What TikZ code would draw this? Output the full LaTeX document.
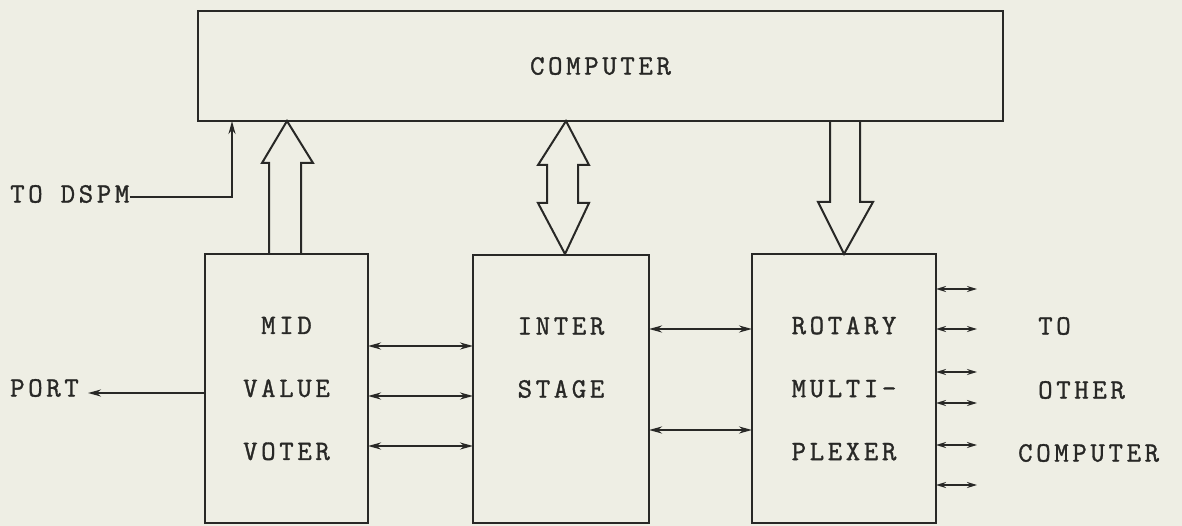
\documentclass[tikz,border=0pt]{standalone}
\usepackage{fontspec}
\newfontfamily\typew[LetterSpace=13,FakeBold=1.2]{Latin Modern Mono}
\usetikzlibrary{arrows.meta}
\definecolor{paper}{RGB}{238,238,228}
\definecolor{ink}{RGB}{40,40,38}
\tikzset{
  box/.style={draw=ink, line width=2pt, inner sep=0pt, outer sep=0pt, align=center,
    font=\typew\fontsize{28}{63}\selectfont, text=ink},
  lbl/.style={inner sep=0pt, text=ink, font=\typew\fontsize{28}{63}\selectfont},
  wire/.style={draw=ink, line width=2pt},
  tip/.style={-{Stealth[length=13pt,width=7pt]}},
  twotip/.style={{Stealth[length=13pt,width=7pt]}-{Stealth[length=13pt,width=7pt]}},
  shorttwotip/.style={{Stealth[length=10pt,width=6pt]}-{Stealth[length=10pt,width=6pt]}},
  blockarrow/.style={draw=ink, line width=2pt, line join=miter}
}
\begin{document}
\begin{tikzpicture}[x=1pt,y=-1pt]
\fill[paper] (0,0) rectangle (1182,526);
\useasboundingbox (0,0) rectangle (1182,526);

% boxes
\node[box, minimum width=805pt, minimum height=110pt] (comp) at (600.5,66) {COMPUTER};
\node[box, minimum width=163pt, minimum height=269pt] (mvv) at (286.5,388.5) {MID\\VALUE\\VOTER};
\node[box, minimum width=176pt, minimum height=268pt] (inter) at (561,389) {INTER\\STAGE\\\phantom{X}};
\node[box, minimum width=184pt, minimum height=269pt] (rot) at (844,388.5) {ROTARY\\MULTI-\\PLEXER};

% outside labels
\node[lbl, anchor=west] (dspm) at (10,194) {TO DSPM};
\node[lbl, anchor=west] (port) at (10,388) {PORT};
\node[lbl, anchor=west] (to) at (1038,326) {TO};
\node[lbl, anchor=west] (other) at (1038,390) {OTHER};
\node[lbl, anchor=west] (ocomp) at (1018,453) {COMPUTER};

% TO DSPM line
\coordinate (bend) at (232,197);
\draw[wire, tip] (dspm.east |- bend) -- (bend) -- (bend |- comp.south);

% PORT
\coordinate (portend) at (88,393);
\draw[wire, tip] (mvv.west |- portend) -- (portend);

% MVV <-> INTER
\foreach \yy in {346,396,446}{
  \draw[wire, twotip] (mvv.east |- 0,\yy) -- (inter.west |- 0,\yy);
}
% INTER <-> ROTARY
\foreach \yy in {329,430}{
  \draw[wire, twotip] (inter.east |- 0,\yy) -- (rot.west |- 0,\yy);
}
% ROTARY outputs
\foreach \yy in {289,329,372,403,445,485}{
  \draw[wire, shorttwotip] (rot.east |- 0,\yy) -- ++(41,0);
}

% block arrows
\draw[blockarrow] (269,254) -- (269,163) -- (262,163) -- (287,121) -- (313,163) -- (301,163) -- (301,254);
\draw[blockarrow] (547,203) -- (547,165) -- (538,165) -- (566,121) -- (589,165) -- (578,165)
  -- (578,203) -- (589,203) -- (565,254) -- (538,203) -- cycle;
\draw[blockarrow] (830,121) -- (830,202) -- (818,202) -- (844,254) -- (873,202) -- (860,202) -- (860,121);
\end{tikzpicture}
\end{document}
